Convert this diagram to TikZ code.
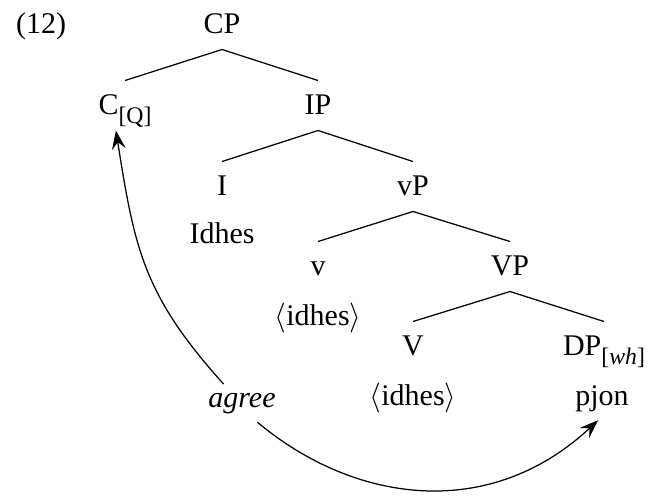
\documentclass[tikz,border=0pt]{standalone}
\usepackage{fontspec}
\setmainfont{Liberation Serif}
\usetikzlibrary{arrows.meta}
\newcommand{\lowsub}[1]{\raisebox{-3.6pt}{\fontsize{9.5}{11}\selectfont #1}}
\begin{document}
\begin{tikzpicture}[x=0.4pt,y=0.4pt,
  font=\fontsize{12}{14}\selectfont,
  lbl/.style={anchor=base, inner xsep=2pt, inner ysep=6.4pt, text height=6.8pt, text depth=0pt},
  word/.style={anchor=base},
  branch/.style={line width=0.5pt},
  agreearrow/.style={line width=0.5pt, -{Stealth[length=7.5pt,width=5.5pt,inset=2.8pt]}}]
\useasboundingbox (0,0) rectangle (651,-495);
% example number
\node[word] (num) at (41,-33) {(12)};
% tree labels
\node[lbl] (C)  at (125,-114) {C\lowsub{[Q]}};
\node[lbl] (CP) at (222,-33) {CP};
\node[lbl] (IP) at (318,-114) {IP};
\node[lbl] (I)  at (222,-195) {I};
\node[lbl] (vP) at (413,-195) {vP};
\node[lbl] (v)  at (318,-275) {v};
\node[lbl] (VP) at (510,-275) {VP};
\node[lbl] (V)  at (413,-355) {V};
\node[lbl] (DP) at (604,-355) {DP\lowsub{[\textit{wh}]}};
% words
\node[word] (w1) at (222,-243) {Idhes};
\node[word] (w2) at (318,-325) {$\langle$idhes$\rangle$};
\node[word] (w3) at (413,-405) {$\langle$idhes$\rangle$};
\node[word] (w4) at (602,-405) {pjon};
\node[word] (agree) at (242,-407) {\textit{agree}};
% branches
\draw[branch] (CP.south) -- (C.north);
\draw[branch] (CP.south) -- (IP.north);
\draw[branch] (IP.south) -- (I.north);
\draw[branch] (IP.south) -- (vP.north);
\draw[branch] (vP.south) -- (v.north);
\draw[branch] (vP.south) -- (VP.north);
\draw[branch] (VP.south) -- (V.north);
\draw[branch] (VP.south) -- (DP.north);
% agree arrows
\draw[agreearrow] (agree.134) .. controls +(132:120) and +(-81:120) .. (C.-110);
\draw[agreearrow] (agree.-51) .. controls +(-40:125) and +(-137:150) .. (w4.-100);
\end{tikzpicture}
\end{document}
